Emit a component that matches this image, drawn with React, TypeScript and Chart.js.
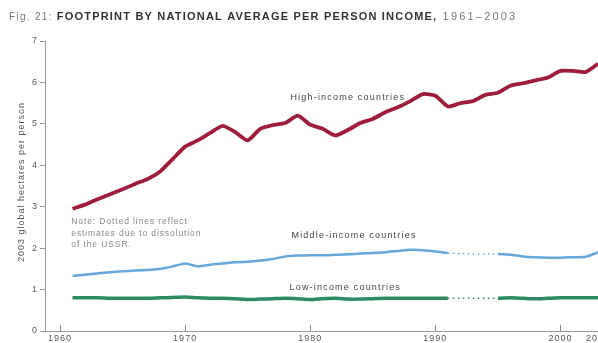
import React, { useEffect, useRef } from "react";
import { Chart, registerables } from "chart.js";

Chart.register(...registerables);

const YEARS = [
  1961, 1962, 1963, 1964, 1965, 1966, 1967, 1968, 1969, 1970,
  1971, 1972, 1973, 1974, 1975, 1976, 1977, 1978, 1979, 1980,
  1981, 1982, 1983, 1984, 1985, 1986, 1987, 1988, 1989, 1990,
  1991, 1992, 1993, 1994, 1995, 1996, 1997, 1998, 1999, 2000,
  2001, 2002, 2003,
];

const HIGH = [
  2.95, 3.05, 3.18, 3.3, 3.42, 3.55, 3.67, 3.85, 4.15, 4.45,
  4.6, 4.78, 4.95, 4.8, 4.6, 4.88, 4.97, 5.02, 5.2, 4.98,
  4.88, 4.72, 4.85, 5.02, 5.12, 5.28, 5.4, 5.55, 5.72, 5.68,
  5.42, 5.5, 5.55, 5.7, 5.75, 5.92, 5.98, 6.05, 6.12, 6.28,
  6.28, 6.25, 6.45,
];

const MIDDLE = [
  1.33, 1.36, 1.39, 1.42, 1.44, 1.46, 1.47, 1.5, 1.56, 1.63,
  1.56, 1.6, 1.63, 1.66, 1.67, 1.7, 1.74, 1.8, 1.82, 1.83,
  1.83, 1.84, 1.85, 1.87, 1.88, 1.9, 1.93, 1.96, 1.95, 1.92,
  1.88, 1.87, 1.86, 1.86, 1.86, 1.84, 1.8, 1.78, 1.77, 1.77,
  1.78, 1.79, 1.9,
];

const LOW = [
  0.8, 0.8, 0.8, 0.79, 0.79, 0.79, 0.79, 0.8, 0.81, 0.82,
  0.8, 0.79, 0.79, 0.78, 0.76, 0.77, 0.78, 0.79, 0.78, 0.76,
  0.78, 0.79, 0.77, 0.77, 0.78, 0.79, 0.79, 0.79, 0.79, 0.79,
  0.79, 0.79, 0.79, 0.79, 0.79, 0.8, 0.79, 0.78, 0.79, 0.8,
  0.8, 0.8, 0.8,
];

const X_TICKS = [1960, 1970, 1980, 1990, 2000, 2003];
const Y_TICKS = [0, 1, 2, 3, 4, 5, 6, 7];
const GAP_START = 1991;
const GAP_END = 1995;

const TITLE_PREFIX = "Fig. 21: ";
const TITLE_MAIN = "FOOTPRINT BY NATIONAL AVERAGE PER PERSON INCOME,";
const TITLE_SUFFIX = " 1961–2003";
const Y_TITLE = "2003 global hectares per person";
const NOTE_LINES = ["Note: Dotted lines reflect", "estimates due to dissolution", "of the USSR."];
const SERIES_LABELS = [
  { text: "High-income countries", year: 1983.0, value: 5.63 },
  { text: "Middle-income countries", year: 1983.5, value: 2.3 },
  { text: "Low-income countries", year: 1982.8, value: 1.06 },
];

const FONT = "'Liberation Sans', Arial, sans-serif";

const toPoints = (vals: number[]) => YEARS.map((y, i) => ({ x: y, y: vals[i] }));

const inGap = (ctx: any) => {
  const x0 = ctx.p0.parsed.x;
  return x0 >= GAP_START && x0 < GAP_END;
};
const gapDash = (ctx: any) => (inGap(ctx) ? [1.5, 3.5] : undefined);
const gapWidth = (w: number, wd: number) => (ctx: any) => (inGap(ctx) ? wd : w);

const spacingPlugin = {
  id: "spacing",
  beforeUpdate(chart: any) {
    (chart.ctx as any).letterSpacing = "1px";
  },
  beforeDraw(chart: any) {
    (chart.ctx as any).letterSpacing = "1px";
  },
};

const decorPlugin = {
  id: "decor",
  afterDraw(chart: any) {
    const { ctx } = chart;
    const xs = chart.scales.x;
    const ys = chart.scales.y;
    ctx.save();
    // inside tick marks on x axis
    ctx.strokeStyle = "#888";
    ctx.lineWidth = 1;
    const bottom = chart.chartArea.bottom;
    X_TICKS.forEach((t) => {
      const px = Math.round(xs.getPixelForValue(t)) + 0.5;
      ctx.beginPath();
      ctx.moveTo(px, bottom);
      ctx.lineTo(px, bottom - 6);
      ctx.stroke();
    });
    // title
    ctx.textBaseline = "middle";
    ctx.textAlign = "left";
    let x = 9;
    const ty = 17;
    (ctx as any).letterSpacing = "1.3px";
    ctx.font = `10px ${FONT}`;
    ctx.fillStyle = "#777";
    ctx.fillText(TITLE_PREFIX, x, ty);
    x += ctx.measureText(TITLE_PREFIX).width;
    ctx.font = `bold 11px ${FONT}`;
    ctx.fillStyle = "#333";
    (ctx as any).letterSpacing = "1.2px";
    ctx.fillText(TITLE_MAIN, x, ty);
    x += ctx.measureText(TITLE_MAIN).width;
    ctx.font = `11px ${FONT}`;
    ctx.fillStyle = "#777";
    (ctx as any).letterSpacing = "2.2px";
    ctx.fillText(TITLE_SUFFIX, x, ty);
    // series labels
    (ctx as any).letterSpacing = "1.2px";
    ctx.font = `9px ${FONT}`;
    ctx.fillStyle = "#444";
    ctx.textAlign = "center";
    SERIES_LABELS.forEach((l) => {
      ctx.fillText(l.text, xs.getPixelForValue(l.year), ys.getPixelForValue(l.value));
    });
    // note
    ctx.textAlign = "left";
    ctx.fillStyle = "#888";
    (ctx as any).letterSpacing = "0.9px";
    ctx.font = `8.5px ${FONT}`;
    NOTE_LINES.forEach((line, i) => {
      ctx.fillText(line, xs.getPixelForValue(1960.9), 222 + i * 11.5);
    });
    // y title
    ctx.save();
    ctx.translate(22, (chart.chartArea.top + chart.chartArea.bottom) / 2 - 4);
    ctx.rotate(-Math.PI / 2);
    ctx.textAlign = "center";
    ctx.fillStyle = "#555";
    (ctx as any).letterSpacing = "1px";
    ctx.font = `9px ${FONT}`;
    ctx.fillText(Y_TITLE, 0, 0);
    ctx.restore();
    ctx.restore();
  },
};

export default function App() {
  const ref = useRef<HTMLCanvasElement | null>(null);
  useEffect(() => {
    if (!ref.current) return;
    const chart = new Chart(ref.current, {
      type: "line",
      data: {
        datasets: [
          {
            label: "High-income countries",
            data: toPoints(HIGH),
            borderColor: "#9e1d3d",
            borderWidth: 3.8,
            pointRadius: 0,
            tension: 0.2,
          },
          {
            label: "Middle-income countries",
            data: toPoints(MIDDLE),
            borderColor: "#67a8dc",
            borderWidth: 2.5,
            pointRadius: 0,
            tension: 0.2,
            segment: { borderDash: gapDash, borderWidth: gapWidth(2.5, 1.5) },
          },
          {
            label: "Low-income countries",
            data: toPoints(LOW),
            borderColor: "#2d8a62",
            borderWidth: 3.5,
            pointRadius: 0,
            tension: 0.2,
            segment: { borderDash: gapDash, borderWidth: gapWidth(3.5, 1.5) },
          },
        ],
      },
      options: {
        animation: false,
        responsive: false,
        maintainAspectRatio: false,
        layout: { padding: { top: 41, right: 0, left: 0, bottom: 0 } },
        plugins: { legend: { display: false }, tooltip: { enabled: false }, title: { display: false } },
        scales: {
          x: {
            type: "linear",
            min: 1958.8,
            max: 2003,
            afterBuildTicks: (s: any) => {
              s.ticks = X_TICKS.map((v) => ({ value: v }));
            },
            afterFit: (s: any) => {
              s.height = 12;
              s.paddingLeft = 0;
              s.paddingRight = 0;
            },
            ticks: {
              autoSkip: false,
              maxRotation: 0,
              padding: 2,
              color: "#555",
              font: { family: FONT, size: 9 },
              callback: (v: any) => String(v),
            },
            grid: { display: false, drawTicks: false },
            border: { display: true, color: "#999", width: 1 },
          },
          y: {
            min: 0,
            max: 7,
            afterBuildTicks: (s: any) => {
              s.ticks = Y_TICKS.map((v) => ({ value: v }));
            },
            afterFit: (s: any) => {
              s.width = 45;
            },
            ticks: {
              padding: 2,
              color: "#555",
              font: { family: FONT, size: 9 },
            },
            grid: { display: true, drawOnChartArea: false, drawTicks: true, tickLength: 5, color: "#999" },
            border: { display: true, color: "#999", width: 1 },
          },
        },
      },
      plugins: [spacingPlugin, decorPlugin],
    });
    return () => chart.destroy();
  }, []);
  return (
    <div style={{ position: "fixed", left: 0, top: 0, width: 598, height: 343, background: "#fff" }}>
      <canvas ref={ref} width={598} height={343} style={{ width: 598, height: 343, display: "block" }} />
    </div>
  );
}
